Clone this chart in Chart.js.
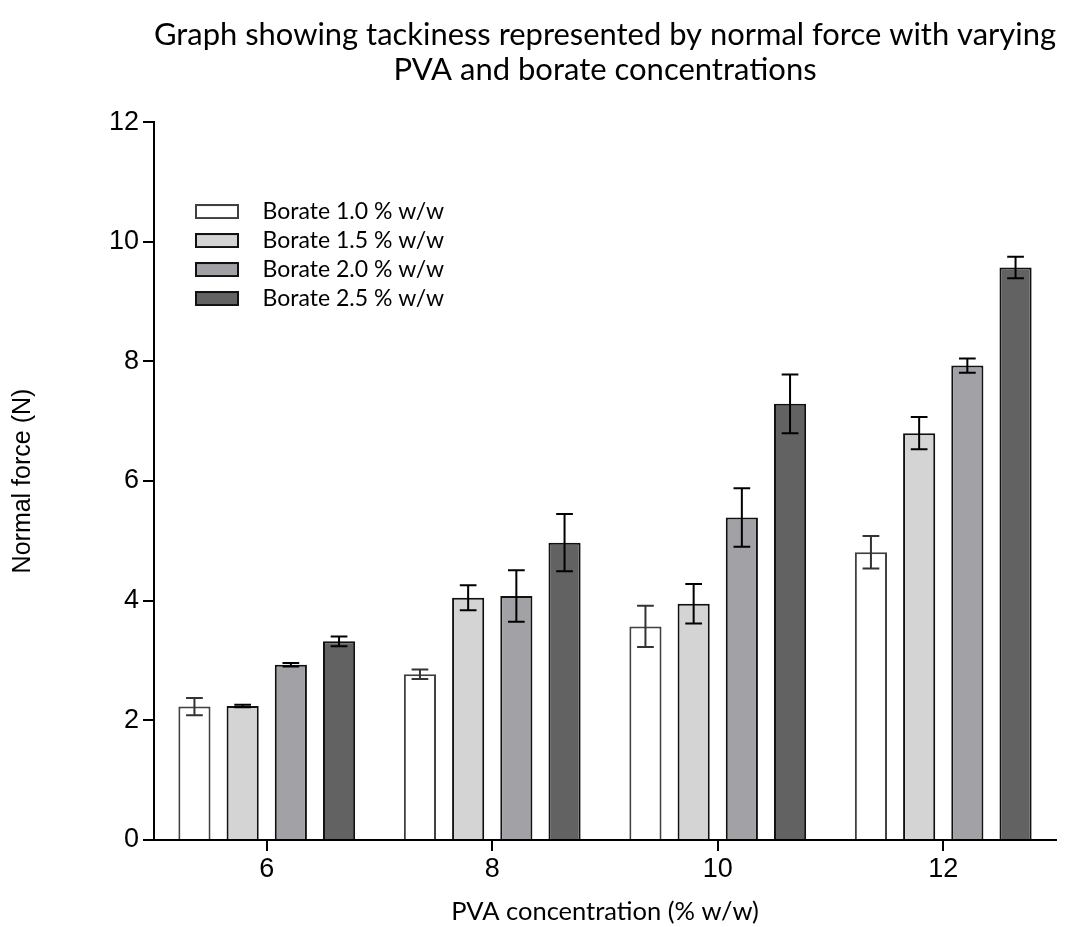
<!DOCTYPE html>
<html>
<head>
<meta charset="utf-8">
<script src="https://cdn.jsdelivr.net/npm/chart.js@4"></script>
<style>
  html, body { margin: 0; padding: 0; background: #ffffff; }
  #wrap { width: 1071px; height: 927px; }
</style>
</head>
<body>
<div id="wrap"><canvas id="c" width="1071" height="927"></canvas></div>
<script>
// ---- data ----
const categories = ['6', '8', '10', '12'];
const seriesNames = ['Borate 1.0 % w/w', 'Borate 1.5 % w/w', 'Borate 2.0 % w/w', 'Borate 2.5 % w/w'];
const borate10 = [2.23, 2.77, 3.57, 4.81];
const borate15 = [2.24, 4.05, 3.95, 6.80];
const borate20 = [2.93, 4.08, 5.39, 7.93];
const borate25 = [3.32, 4.97, 7.29, 9.57];
const err10 = [0.145, 0.08, 0.345, 0.27];
const err15 = [0.02, 0.21, 0.33, 0.27];
const err20 = [0.03, 0.43, 0.49, 0.12];
const err25 = [0.08, 0.48, 0.49, 0.18];
const yTicks = [0, 2, 4, 6, 8, 10, 12];
const titleLines = ['Graph showing tackiness represented by normal force with varying', 'PVA and borate concentrations'];
const xTitle = 'PVA concentration (% w/w)';
const yTitle = 'Normal force (N)';

// ---- styles ----
const fills = ['#ffffff', '#d4d4d4', '#a2a2a6', '#626262'];
const borders = ['#404040', '#111111', '#111111', '#111111'];
const errColors = ['#333333', '#000000', '#000000', '#000000'];
const values = [borate10, borate15, borate20, borate25];
const errors = [err10, err15, err20, err25];

function swatch(fill, stroke) {
  const cv = document.createElement('canvas');
  cv.width = 56; cv.height = 15;
  const g = cv.getContext('2d');
  g.fillStyle = fill;
  g.fillRect(1, 1, 42, 13);
  g.strokeStyle = stroke;
  g.lineWidth = 2;
  g.strokeRect(1, 1, 42, 13);
  return cv;
}
const swatches = fills.map((f, i) => swatch(f, borders[i]));

const errorBars = {
  id: 'errorBars',
  afterDatasetsDraw(chart) {
    const ctx = chart.ctx;
    const ys = chart.scales.y;
    chart.data.datasets.forEach((ds, i) => {
      const meta = chart.getDatasetMeta(i);
      meta.data.forEach((bar, j) => {
        const v = ds.data[j], e = errors[i][j];
        const yt = ys.getPixelForValue(v + e);
        const yb = ys.getPixelForValue(v - e);
        const half = bar.width * 0.26;
        ctx.save();
        ctx.strokeStyle = errColors[i];
        ctx.lineWidth = 2;
        ctx.beginPath();
        ctx.moveTo(bar.x, yt); ctx.lineTo(bar.x, yb);
        ctx.moveTo(bar.x - half, yt); ctx.lineTo(bar.x + half, yt);
        ctx.moveTo(bar.x - half, yb); ctx.lineTo(bar.x + half, yb);
        ctx.stroke();
        ctx.restore();
      });
    });
  }
};

const legendPlace = {
  id: 'legendPlace',
  afterLayout(chart) {
    const lg = chart.legend;
    if (!lg) return;
    lg.left = chart.chartArea.left + 35;
    lg.top = chart.chartArea.top + 72;
  }
};

new Chart(document.getElementById('c'), {
  type: 'bar',
  data: {
    labels: categories,
    datasets: values.map((vals, i) => ({
      label: seriesNames[i],
      data: vals,
      backgroundColor: fills[i],
      borderColor: borders[i],
      borderWidth: 2,
      borderSkipped: 'start',
      categoryPercentage: 0.855,
      barPercentage: 0.667
    }))
  },
  options: {
    responsive: false,
    animation: false,
    devicePixelRatio: 1,
    layout: { padding: { left: 0, right: 15, top: 0, bottom: 0 } },
    plugins: {
      title: {
        display: true,
        text: titleLines,
        fullSize: false,
        color: '#000',
        font: { family: 'Lato', size: 31, weight: 'normal', lineHeight: 1.13 },
        padding: { top: 17.5, bottom: 34.5 }
      },
      legend: {
        display: true,
        position: 'chartArea',
        align: 'start',
        labels: {
          color: '#000',
          font: { family: 'Lato', size: 23 },
          padding: 6,
          usePointStyle: true,
          pointStyleWidth: 56,
          boxHeight: 15,
          generateLabels(chart) {
            const items = Chart.defaults.plugins.legend.labels.generateLabels(chart);
            items.forEach((it, i) => { it.pointStyle = swatches[i]; });
            return items;
          }
        }
      },
      tooltip: { enabled: false }
    },
    scales: {
      x: {
        offset: true,
        afterFit(s) { s.height = 87; },
        grid: { display: true, drawOnChartArea: false, drawTicks: true, tickLength: 11, color: '#000', lineWidth: 2, offset: false },
        border: { display: true, color: '#000', width: 2 },
        ticks: { color: '#000', font: { family: 'Liberation Sans', size: 27 }, padding: 2 },
        title: {
          display: true, text: xTitle, color: '#000',
          font: { family: 'Lato', size: 25.5, lineHeight: 1 },
          padding: { top: 0, bottom: 2 }
        }
      },
      y: {
        min: 0, max: 12,
        afterFit(s) { s.width = 154; },
        afterBuildTicks(s) { s.ticks = yTicks.map(v => ({ value: v })); },
        grid: { display: true, drawOnChartArea: false, drawTicks: true, tickLength: 11, color: '#000', lineWidth: 2 },
        border: { display: true, color: '#000', width: 2 },
        ticks: { color: '#000', font: { family: 'Liberation Sans', size: 27 }, padding: 4 },
        title: {
          display: true, text: yTitle, color: '#000',
          font: { family: 'Liberation Sans', size: 25, lineHeight: 1.2 },
          padding: { top: 8, bottom: 0 }
        }
      }
    }
  },
  plugins: [errorBars, legendPlace]
});
</script>
</body>
</html>
